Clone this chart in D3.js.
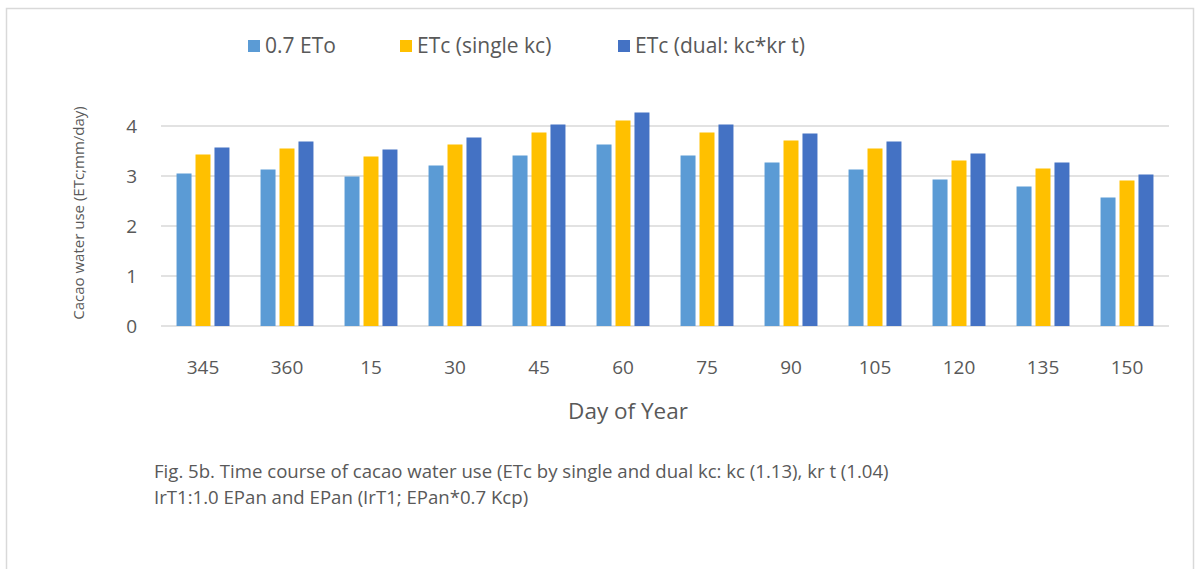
<!DOCTYPE html>
<html>
<head>
<meta charset="utf-8">
<script src="https://cdn.jsdelivr.net/npm/d3@7"></script>
<style>
  body { margin: 0; background: #fff; }
  text { font-family: "Open Sans", sans-serif; fill: #595959; }
</style>
</head>
<body>
<div id="chart"></div>
<script>
// day-of-year categories along the x axis
const days = ['345', '360', '15', '30', '45', '60', '75', '90', '105', '120', '135', '150'];
const seriesNames = ['0.7 ETo', 'ETc (single kc)', 'ETc (dual: kc*kr t)'];
const seriesColors = ['#5B9BD5', '#FFC000', '#4472C4'];

// values (mm/day)
const eto07 = [3.05, 3.13, 2.99, 3.21, 3.41, 3.63, 3.41, 3.27, 3.13, 2.93, 2.79, 2.57];
const etcSingle = [3.43, 3.55, 3.39, 3.63, 3.87, 4.11, 3.87, 3.71, 3.55, 3.31, 3.15, 2.91];
const etcDual = [3.57, 3.69, 3.53, 3.77, 4.03, 4.27, 4.03, 3.85, 3.69, 3.45, 3.27, 3.03];
const yTicks = [0, 1, 2, 3, 4];

const caption = [
  'Fig. 5b. Time course of cacao water use (ETc by single and dual kc: kc (1.13), kr t (1.04)',
  'IrT1:1.0 EPan and EPan (IrT1; EPan*0.7 Kcp)'
];

const W = 1195, H = 569;

const svg = d3.select('#chart').append('svg')
  .attr('width', W)
  .attr('height', H);

// outer chart frame
svg.append('rect')
  .attr('x', 6.5).attr('y', 8.5)
  .attr('width', 1187).attr('height', 580)
  .attr('fill', 'none')
  .attr('stroke', '#d9d9d9')
  .attr('stroke-width', 1.5);

const table = days.map((d, i) => ({day: d, values: [eto07[i], etcSingle[i], etcDual[i]]}));

const x0 = d3.scaleBand()
  .domain(days)
  .range([161, 1169])
  .paddingInner(0.37)
  .paddingOuter(0.185);

const x1 = d3.scaleBand()
  .domain(d3.range(seriesNames.length))
  .range([0, x0.bandwidth()])
  .paddingInner(0.21);

const y = d3.scaleLinear()
  .domain([0, 4])
  .range([326, 126]);

// gridlines
svg.append('g')
  .selectAll('line')
  .data(yTicks)
  .enter().append('line')
  .attr('x1', 161).attr('x2', 1169)
  .attr('y1', d => y(d)).attr('y2', d => y(d))
  .attr('stroke', '#d9d9d9')
  .attr('stroke-width', 1.5);

// y tick labels
svg.append('g')
  .selectAll('text')
  .data(yTicks)
  .enter().append('text')
  .attr('x', 137)
  .attr('y', d => y(d))
  .attr('dy', '0.35em')
  .attr('text-anchor', 'end')
  .style('font-size', '19px')
  .text(d => d);

// bars
const groups = svg.append('g')
  .selectAll('g')
  .data(table)
  .enter().append('g')
  .attr('transform', d => 'translate(' + x0(d.day) + ',0)');

groups.selectAll('rect')
  .data(d => d.values)
  .enter().append('rect')
  .attr('x', (v, i) => x1(i))
  .attr('width', x1.bandwidth())
  .attr('y', v => y(v))
  .attr('height', v => y(0) - y(v))
  .attr('fill', (v, i) => seriesColors[i]);

// x tick labels
svg.append('g')
  .selectAll('text')
  .data(days)
  .enter().append('text')
  .attr('x', d => x0(d) + x0.bandwidth() / 2)
  .attr('y', 367)
  .attr('dy', '0.35em')
  .attr('text-anchor', 'middle')
  .style('font-size', '19px')
  .text(d => d);

// axis titles
svg.append('text')
  .attr('x', 628).attr('y', 411)
  .attr('dy', '0.35em')
  .attr('text-anchor', 'middle')
  .style('font-size', '22.5px')
  .text('Day of Year');

svg.append('text')
  .attr('transform', 'translate(79,213) rotate(-90)')
  .attr('dy', '0.35em')
  .attr('text-anchor', 'middle')
  .style('font-size', '15px')
  .text('Cacao water use (ETc;mm/day)');

// legend
const legendX = [248, 400, 618];
const legend = svg.append('g')
  .selectAll('g')
  .data(seriesNames)
  .enter().append('g')
  .attr('transform', (d, i) => 'translate(' + legendX[i] + ',46)');

legend.append('rect')
  .attr('x', 0).attr('y', -6)
  .attr('width', 12).attr('height', 12)
  .attr('fill', (d, i) => seriesColors[i]);

legend.append('text')
  .attr('x', 17)
  .attr('dy', '0.35em')
  .style('font-size', '21px')
  .text(d => d);

// figure caption
svg.append('g')
  .selectAll('text')
  .data(caption)
  .enter().append('text')
  .attr('x', 154)
  .attr('y', (d, i) => 471 + i * 26)
  .attr('dy', '0.35em')
  .style('font-size', '18.6px')
  .text(d => d);
</script>
</body>
</html>
